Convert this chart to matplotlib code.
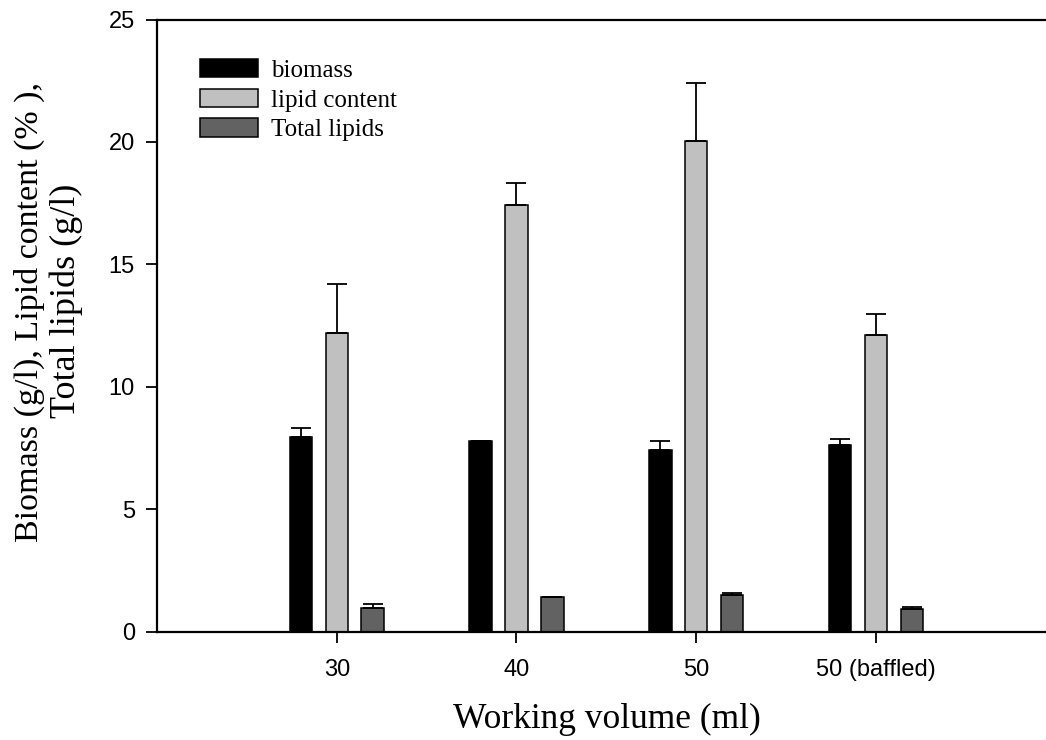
import matplotlib
matplotlib.use("Agg")
import matplotlib.pyplot as plt
import numpy as np

categories = ["30", "40", "50", "50 (baffled)"]
series_names = ["biomass", "lipid content", "Total lipids"]
biomass = [7.95, 7.78, 7.43, 7.62]
biomass_err = [0.37, 0.02, 0.35, 0.23]
lipid_content = [12.2, 17.42, 20.04, 12.12]
lipid_content_err = [1.98, 0.92, 2.38, 0.87]
total_lipids = [0.97, 1.40, 1.51, 0.92]
total_lipids_err = [0.14, 0.02, 0.06, 0.09]
y_ticks = [0, 5, 10, 15, 20, 25]
x_label = "Working volume (ml)"
y_label_lines = ["Biomass (g/l), Lipid content (% ),", "Total lipids (g/l)"]

colors = ["#000000", "#c0c0c0", "#626262"]

W, H = 1046, 740
fig = plt.figure(figsize=(W / 100, H / 100), dpi=100)
ax = fig.add_axes([157/W, (H-631.5)/H, (1055.7-157)/W, (631.5-19.5)/H])

x = np.arange(len(categories))
width = 0.125
offset = 0.2
vals = [biomass, lipid_content, total_lipids]
errs = [biomass_err, lipid_content_err, total_lipids_err]
for i, (v, e, c, n) in enumerate(zip(vals, errs, colors, series_names)):
    xpos = x + (i - 1) * offset
    ax.bar(xpos, v, width=width, color=c, edgecolor="black", linewidth=1.1,
           label=n, zorder=2)
    ax.errorbar(xpos, v, yerr=[np.zeros(len(v)), e], fmt="none", ecolor="black",
                elinewidth=1.3, capsize=7.2, capthick=1.3, zorder=3)

ax.set_xlim(-1.0, 4.0)
ax.set_ylim(0, 25)
ax.set_yticks(y_ticks)
ax.set_xticks(x)
ax.set_xticklabels(categories)

for s in ["left", "bottom", "top"]:
    ax.spines[s].set_linewidth(1.6)
ax.spines["right"].set_visible(False)

ax.tick_params(axis="both", direction="out", width=1.3, length=8,
               labelsize=17, colors="black")
ax.tick_params(axis="x", pad=12)
ax.tick_params(axis="y", pad=8)
for lab in ax.get_xticklabels() + ax.get_yticklabels():
    lab.set_family("Liberation Sans")

serif = "Liberation Serif"
fig.text(607/W, 1 - 728/H, x_label, family=serif, fontsize=25.5,
         ha="center", va="baseline")
fig.text(29/W, 1 - 312/H, y_label_lines[0], family=serif, fontsize=24.5,
         ha="center", va="center", rotation=90)
fig.text(66/W, 1 - 301/H, y_label_lines[1], family=serif, fontsize=26,
         ha="center", va="center", rotation=90)

leg = ax.legend(loc="upper left", bbox_to_anchor=(200/W, 1 - 59/H),
                bbox_transform=fig.transFigure, frameon=False,
                prop={"family": serif, "size": 18},
                handlelength=2.3, handleheight=0.76, handletextpad=0.55,
                labelspacing=0.27, borderpad=0, borderaxespad=0)

fig.savefig("out.png", dpi=100)
